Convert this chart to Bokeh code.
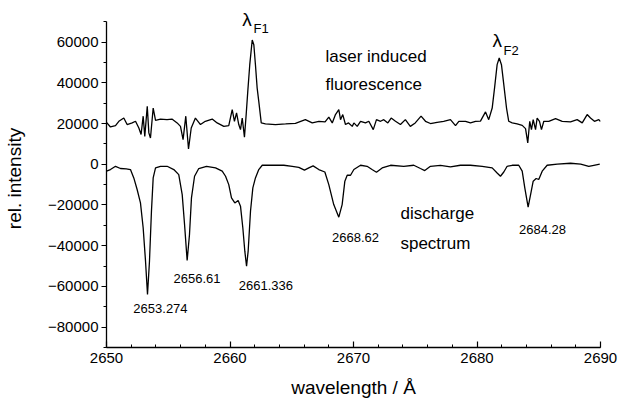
from bokeh.plotting import figure
from bokeh.models import Range1d, SingleIntervalTicker, BasicTickFormatter, ColumnDataSource
from bokeh.core.properties import value
from bokeh.embed import file_html
from bokeh.resources import INLINE

FONT = "Liberation Sans"

# laser induced fluorescence trace (wavelength / A, intensity)
fluor_wl = [2650.0, 2650.32, 2650.73, 2651.0, 2651.4, 2651.67, 2652.08, 2652.35, 2652.62, 2652.8,
            2652.97, 2653.1, 2653.3, 2653.43, 2653.56, 2653.78, 2653.97, 2654.37, 2654.9, 2655.3,
            2655.72, 2655.99, 2656.2, 2656.42, 2656.64, 2656.86, 2657.2, 2657.61, 2658.0, 2658.56,
            2658.96, 2659.5, 2659.9, 2660.18, 2660.36, 2660.53, 2660.71, 2660.85, 2660.99, 2661.17,
            2661.31, 2661.44, 2661.6, 2661.8, 2661.93, 2662.06, 2662.2, 2662.33, 2662.53, 2662.87,
            2663.68, 2664.5, 2665.3, 2666.1, 2666.66, 2667.2, 2667.7, 2668.0, 2668.28, 2668.54,
            2668.81, 2668.95, 2669.13, 2669.35, 2669.6, 2669.9, 2670.03, 2670.3, 2670.57, 2670.97,
            2671.24, 2671.6, 2671.86, 2672.19, 2672.45, 2672.78, 2673.05, 2673.4, 2673.8, 2674.2,
            2674.6, 2675.0, 2675.47, 2675.83, 2676.23, 2676.77, 2677.3, 2677.85, 2678.26, 2678.53,
            2679.07, 2679.47, 2679.88, 2680.28, 2680.69, 2680.95, 2681.23, 2681.42, 2681.63, 2681.8,
            2681.98, 2682.17, 2682.39, 2682.57, 2682.85, 2683.25, 2683.66, 2683.93, 2684.11, 2684.27,
            2684.41, 2684.55, 2684.74, 2684.87, 2685.06, 2685.22, 2685.41, 2685.81, 2686.36, 2686.9,
            2687.57, 2688.11, 2688.52, 2688.92, 2689.19, 2689.51, 2689.86, 2690.0]
fluor_val = [20600, 18300, 19000, 21100, 22700, 19500, 20300, 21100, 17800, 14600,
             23600, 13700, 28500, 15400, 12900, 27600, 21600, 22200, 21900, 22200,
             20300, 18600, 12100, 23600, 7500, 17800, 22700, 19500, 21100, 22200,
             20300, 18600, 19000, 26800, 21100, 25200, 19500, 17000, 22700, 13300,
             24400, 35800, 48900, 61000, 58700, 48900, 37400, 30900, 20300, 19800,
             19500, 19800, 20100, 21900, 20300, 21100, 20800, 23100, 20300, 24400,
             26800, 21900, 24400, 19500, 20300, 18600, 20300, 18600, 21100, 20300,
             21100, 17000, 21900, 21100, 21900, 20300, 22700, 21100, 19500, 21900,
             18600, 20300, 23600, 21100, 20000, 20600, 21100, 21900, 19000, 21100,
             21100, 20300, 21100, 21200, 25700, 21900, 27600, 37400, 48900, 52200,
             48900, 39100, 27600, 21100, 20300, 19800, 19100, 17500, 10500, 21100,
             17000, 21900, 17000, 22700, 21100, 17000, 21100, 21100, 22400, 21100,
             20800, 21900, 20300, 24400, 22700, 21100, 21900, 21000]

# discharge spectrum trace
disch_wl = [2650.0, 2650.32, 2650.73, 2651.13, 2651.6, 2651.94, 2652.21, 2652.48, 2652.75, 2652.97,
            2653.16, 2653.32, 2653.48, 2653.64, 2653.78, 2653.97, 2654.37, 2654.91, 2655.45, 2655.85,
            2656.13, 2656.32, 2656.53, 2656.72, 2656.88, 2657.13, 2657.47, 2658.1, 2658.83, 2659.37,
            2659.64, 2659.9, 2660.12, 2660.39, 2660.66, 2660.85, 2661.04, 2661.2, 2661.34, 2661.47,
            2661.66, 2661.85, 2662.06, 2662.33, 2662.61, 2663.42, 2664.36, 2665.04, 2665.57, 2666.03,
            2666.38, 2666.73, 2667.19, 2667.68, 2668.0, 2668.4, 2668.81, 2669.08, 2669.3, 2669.49,
            2669.76, 2670.03, 2670.57, 2671.1, 2671.5, 2671.86, 2672.32, 2673.0, 2674.07, 2674.88,
            2675.42, 2675.77, 2676.23, 2677.04, 2677.85, 2678.66, 2679.47, 2680.42, 2681.23, 2681.63,
            2681.9, 2682.17, 2682.44, 2682.85, 2683.38, 2683.66, 2683.87, 2684.14, 2684.39, 2684.55,
            2684.79, 2685.0, 2685.28, 2685.68, 2686.5, 2687.57, 2688.4, 2689.05, 2689.46, 2689.94]
disch_val = [-3400, -2600, -1000, -2100, -2300, -2600, -6700, -12400, -19000, -31300,
             -47600, -64000, -47600, -23100, -6700, -1800, -1000, -1000, -2600, -5100,
             -14900, -29600, -47300, -34500, -16500, -5900, -2100, -1000, -1800, -3400,
             -5900, -10000, -16500, -19000, -17800, -20600, -31300, -42700, -50100, -42700,
             -23100, -11600, -6700, -2600, -500, -500, -500, -1000, -1500, -2900,
             -1800, -800, -2600, -3800, -10000, -19800, -26000, -19800, -8300, -5400,
             -5400, -2600, -500, -1000, -2600, -3900, -1800, -500, -1000, -500,
             -2100, -3100, -1000, -600, -1300, -500, -500, -1000, -1800, -4300,
             -5900, -3800, -1000, -500, -500, -3400, -11600, -21100, -13300, -8300,
             -7000, -7500, -3400, -500, 100, 500, 100, -1000, -500, 100]

# peak labels (centered)
peak_text = ["2653.274", "2656.61", "2661.336", "2668.62", "2684.28"]
peak_x = [2654.37, 2657.33, 2662.91, 2670.16, 2685.3]
peak_y = [-70700, -55950, -59400, -35800, -31900]

# descriptive labels (left aligned)
desc_text = ["laser induced", "fluorescence", "discharge", "spectrum"]
desc_x = [2667.73, 2667.73, 2673.8, 2673.8]
desc_y = [53000, 39300, -24000, -38800]

# lambda markers with subscripts
lam_x = [2661.0, 2681.26]
lam_y = [70900, 60600]
sub_text = ["F1", "F2"]
sub_x = [2661.9, 2682.15]
sub_y = [66500, 55950]

x_ticks_interval = 10
y_ticks_interval = 20000

p = figure(width=618, height=403,
           x_range=Range1d(2650, 2690), y_range=Range1d(-90000, 76000),
           output_backend="svg", toolbar_location=None,
           min_border_left=106, min_border_right=18, min_border_top=9, min_border_bottom=56)
p.outline_line_color = None
p.grid.visible = False
p.background_fill_color = "white"
p.border_fill_color = "white"

p.line(fluor_wl, fluor_val, line_color="black", line_width=1.3)
p.line(disch_wl, disch_val, line_color="black", line_width=1.3)

p.text(x="x", y="y", text="t", source=ColumnDataSource(dict(x=peak_x, y=peak_y, t=peak_text)),
       text_font=value(FONT), text_font_size="13px", text_align="center", text_baseline="middle",
       text_color="black")
p.text(x="x", y="y", text="t", source=ColumnDataSource(dict(x=desc_x, y=desc_y, t=desc_text)),
       text_font=value(FONT), text_font_size="17px", text_align="left", text_baseline="middle",
       text_color="black")
p.text(x="x", y="y", text="t", source=ColumnDataSource(dict(x=lam_x, y=lam_y, t=["λ", "λ"])),
       text_font=value(FONT), text_font_size="19px", text_align="left", text_baseline="middle",
       text_color="black")
p.text(x="x", y="y", text="t", source=ColumnDataSource(dict(x=sub_x, y=sub_y, t=sub_text)),
       text_font=value(FONT), text_font_size="13px", text_align="left", text_baseline="middle",
       text_color="black")

xa = p.xaxis[0]
xa.ticker = SingleIntervalTicker(interval=x_ticks_interval, num_minor_ticks=5)
xa.major_tick_in = 6
xa.major_tick_out = 0
xa.minor_tick_in = 3
xa.minor_tick_out = 0
xa.major_label_standoff = 5
xa.axis_label = "wavelength / Å"
xa.axis_label_standoff = 11

ya = p.yaxis[0]
ya.ticker = SingleIntervalTicker(interval=y_ticks_interval, num_minor_ticks=2)
ya.formatter = BasicTickFormatter(use_scientific=False)
ya.bounds = (-90000, 70000)
ya.major_tick_in = 0
ya.major_tick_out = 5
ya.minor_tick_in = 0
ya.minor_tick_out = 3
ya.major_label_standoff = 3
ya.axis_label = "rel. intensity"
ya.axis_label_standoff = 20

for ax in (xa, ya):
    ax.axis_line_color = "black"
    ax.axis_line_width = 1.3
    ax.major_tick_line_color = "black"
    ax.minor_tick_line_color = "black"
    ax.major_tick_line_width = 1.2
    ax.minor_tick_line_width = 1.0
    ax.major_label_text_font = FONT
    ax.major_label_text_font_size = "15px"
    ax.major_label_text_color = "black"
    ax.axis_label_text_font = FONT
    ax.axis_label_text_font_size = "19px"
    ax.axis_label_text_font_style = "normal"
    ax.axis_label_text_color = "black"

open("out.html", "w").write(file_html(p, INLINE))
